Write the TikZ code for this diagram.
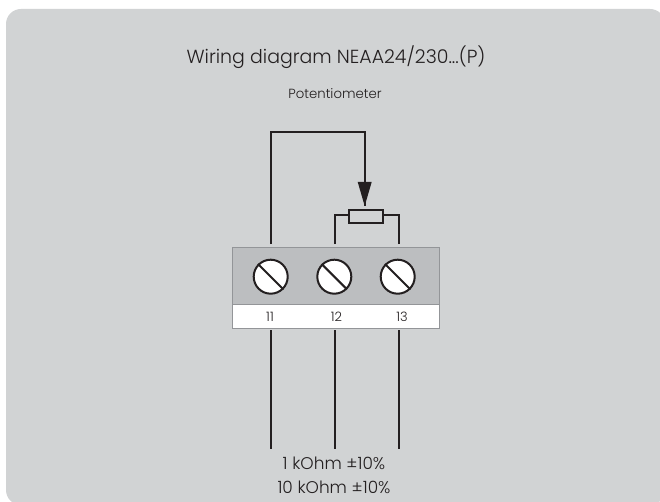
\documentclass[tikz,border=0pt]{standalone}
\usepackage{fontspec}
\setmainfont{Poppins Light}
\definecolor{panel}{RGB}{209,211,212}
\definecolor{term}{RGB}{188,190,192}
\definecolor{termedge}{RGB}{147,149,152}
\definecolor{ink}{RGB}{35,31,32}
\begin{document}
\begin{tikzpicture}[x=1bp,y=-1bp,
  wire/.style={draw=ink,line width=2bp},
  screwhead/.style={circle,draw=ink,fill=white,line width=2bp,minimum size=34bp,inner sep=0pt},
  termbox/.style={draw=termedge,line width=1.2bp,inner sep=0pt,anchor=north west},
  resistor/.style={rectangle,draw=ink,fill=panel,line width=2bp,minimum width=34bp,minimum height=13bp,inner sep=0pt},
  label/.style={text=ink,font=\fontsize{13}{15}\selectfont,inner sep=0pt},
  txt/.style={text=ink,inner sep=0pt,align=center}]
\useasboundingbox (0,0) rectangle (660,502);
\fill[white] (0,0) rectangle (660,502);
\begin{scope}
\clip (0,0) rectangle (660,502);
\fill[panel,rounded corners=15bp] (6,9) rectangle (665,505);
\end{scope}
\node[txt,font=\fontsize{19}{23}\selectfont] (title) at (336,57) {Wiring diagram NEAA24/230...(P)};
\node[txt,font=\fontsize{13.3}{16}\selectfont] (sub) at (335,94) {Potentiometer};
\node[termbox,fill=term,minimum width=207bp,minimum height=57bp] (top) at (232,247) {};
\node[termbox,fill=white,minimum width=207bp,minimum height=24bp] (bot) at (232,304) {};
\foreach \n/\x/\l/\t in {a/270.7/270/11,b/334.3/336.5/12,c/397.7/402/13}{
  \node[screwhead] (s\n) at (\x,276.7) {};
  \draw[ink,line width=2bp] (s\n.135) -- (s\n.-45);
  \node[label] (l\n) at (\l,316.5) {\t};
}
\node[resistor] (res) at (366.3,216.8) {};
\coordinate (ta) at (271,244);
\coordinate (tb) at (335,244);
\coordinate (tc) at (398.5,244);
\coordinate (tip) at (364.7,206);
\draw[wire] (ta) -- (271,132.3) -| (tip);
\fill[ink] (tip) -- (357.7,182) -- (371.7,182) -- cycle;
\draw[wire] (tb) |- (res.west |- 0,215) ;
\draw[wire] (tc) |- (res.east |- 0,215);
\foreach \x in {271,335,398.5}
  \draw[wire] (\x,330) -- (\x,449);
\node[txt,font=\fontsize{17}{24}\selectfont] (val) at (334,475.5) {1 kOhm ±10\%\\10 kOhm ±10\%};
\end{tikzpicture}
\end{document}
